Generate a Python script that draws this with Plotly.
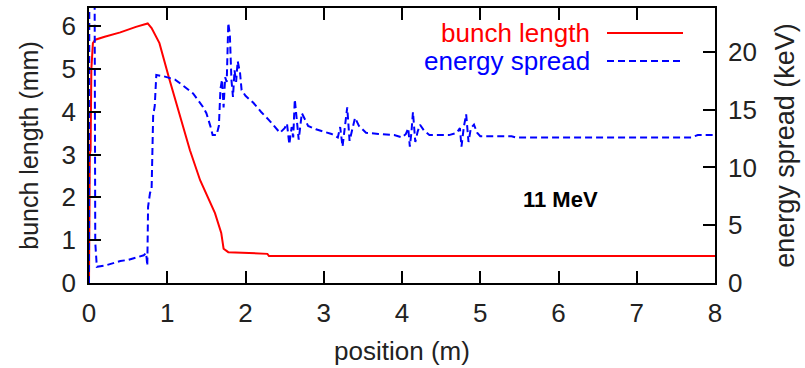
import plotly.graph_objects as go

# bunch length (mm) vs position (m)
bl_pos = [0, 0.01, 0.02, 0.03, 0.05, 0.08, 0.2, 0.4, 0.6, 0.75, 0.8, 0.9, 1.03, 1.14,
          1.29, 1.42, 1.61, 1.69, 1.72, 1.78, 2.28, 2.3, 8.0]
bl_val = [0, 3.0, 3.1, 5.0, 5.6, 5.68, 5.75, 5.85, 5.98, 6.06, 5.95, 5.6, 4.74, 4.04,
          3.1, 2.4, 1.63, 1.17, 0.8, 0.72, 0.68, 0.63, 0.63]

# energy spread (keV) vs position (m)
es_pos = [0, 0.005, 0.07, 0.08, 0.1, 0.2, 0.3, 0.4, 0.5, 0.6, 0.7, 0.73, 0.745, 0.755,
          0.78, 0.80, 0.82, 0.84, 0.86, 0.95, 1.1, 1.2, 1.33, 1.45, 1.5, 1.55, 1.58,
          1.63, 1.66, 1.68, 1.70, 1.72, 1.74, 1.76, 1.78, 1.80, 1.82, 1.84, 1.86, 1.88,
          1.90, 1.93, 1.95, 2.0, 2.1, 2.2, 2.3, 2.44, 2.5, 2.53, 2.56, 2.59, 2.61, 2.63,
          2.66, 2.68, 2.72, 2.76, 2.8, 2.9, 3.0, 3.1, 3.18, 3.21, 3.24, 3.27, 3.3, 3.33,
          3.36, 3.40, 3.45, 3.54, 3.7, 3.9, 4.0, 4.05, 4.08, 4.10, 4.12, 4.14, 4.17, 4.20,
          4.23, 4.28, 4.35, 4.6, 4.7, 4.74, 4.76, 4.79, 4.82, 4.85, 4.88, 4.92, 4.96, 5.0,
          5.4, 5.45, 7.7, 7.78, 8.0]
es_val = [0, 30, 30, 3.5, 1.4, 1.5, 1.7, 1.9, 2.0, 2.2, 2.4, 2.6, 1.5, 6.6,
          7.8, 8.1, 14.5, 15.3, 18.0, 17.9, 17.6, 17.1, 16.4, 15.3, 14.7, 13.6, 12.8,
          12.8, 13.6, 16.8, 17.6, 15.2, 17.8, 17.4, 22.5, 21.5, 17.6, 16.1, 18.4, 17.4,
          19.2, 18.2, 16.7, 16.2, 15.6, 14.8, 14.1, 13.0, 13.4, 13.8, 12.0, 13.5, 12.6, 15.9,
          14.0, 12.4, 14.7, 14.2, 13.6, 13.3, 13.1, 12.9, 12.6, 13.5, 11.8, 13.4, 15.2, 12.3,
          13.2, 14.3, 13.6, 13.0, 12.9, 12.8, 12.6, 12.9, 13.4, 11.8, 13.0, 14.8, 12.2, 13.1,
          13.7, 13.2, 12.8, 12.8, 13.0, 13.4, 11.8, 13.5, 14.6, 12.2, 13.4, 13.7, 13.0, 12.7,
          12.7, 12.6, 12.6, 12.8, 12.8]

x_ticks = [0, 1, 2, 3, 4, 5, 6, 7, 8]
bl_ticks = [0, 1, 2, 3, 4, 5, 6]
es_ticks = [0, 5, 10, 15, 20]

FONT = "Liberation Sans, Arial, sans-serif"
TXT = "#222222"

fig = go.Figure()
fig.add_trace(go.Scatter(x=bl_pos, y=bl_val, mode="lines", name="bunch length",
                         line=dict(color="#ff0000", width=2), yaxis="y"))
fig.add_trace(go.Scatter(x=es_pos, y=es_val, mode="lines", name="energy spread",
                         line=dict(color="#0000ff", width=2, dash="7px,4px"), yaxis="y2"))

axis_common = dict(showline=True, linecolor="black", linewidth=1.5, ticks="inside",
                   ticklen=12, tickcolor="black", tickwidth=1.5, showgrid=False,
                   zeroline=False, automargin=False,
                   tickfont=dict(family=FONT, size=26, color=TXT))

fig.update_layout(
    width=805, height=368,
    margin=dict(l=89, r=90, t=8, b=85),
    paper_bgcolor="white", plot_bgcolor="white",
    showlegend=False,
    xaxis=dict(range=[0, 8], tickvals=x_ticks, mirror="ticks", ticklabelstandoff=6,
               title=dict(text="position (m)", font=dict(family=FONT, size=26, color=TXT), standoff=15),
               **axis_common),
    yaxis=dict(range=[0, 6.42], tickvals=bl_ticks, ticklabelstandoff=6,
               title=dict(text="bunch length (mm)", font=dict(family=FONT, size=25, color=TXT), standoff=16),
               **axis_common),
    yaxis2=dict(range=[0, 23.8], tickvals=es_ticks, overlaying="y", side="right",
                ticklabelstandoff=6,
                title=dict(text="energy spread (keV)", font=dict(family=FONT, size=27, color=TXT), standoff=19),
                **axis_common),
)

# legend drawn gnuplot-style: text then line sample
fig.add_annotation(xref="paper", yref="paper", x=(592 - 89) / 626, y=(283 - 33) / 275,
                   text="bunch length", showarrow=False, xanchor="right", yanchor="middle",
                   font=dict(family=FONT, size=26, color="#ff0000"))
fig.add_annotation(xref="paper", yref="paper", x=(592 - 89) / 626, y=(283 - 61) / 275,
                   text="energy spread", showarrow=False, xanchor="right", yanchor="middle",
                   font=dict(family=FONT, size=26, color="#0000ff"))
fig.add_shape(type="line", xref="paper", yref="paper", x0=(607 - 89) / 626, x1=(683 - 89) / 626,
              y0=(283 - 33) / 275, y1=(283 - 33) / 275, line=dict(color="#ff0000", width=2))
fig.add_shape(type="line", xref="paper", yref="paper", x0=(607 - 89) / 626, x1=(683 - 89) / 626,
              y0=(283 - 61) / 275, y1=(283 - 61) / 275, line=dict(color="#0000ff", width=2, dash="7px,4px"))

fig.add_annotation(x=6.02, y=1.96, xref="x", yref="y", text="<b>11 MeV</b>", showarrow=False,
                   font=dict(family=FONT, size=22, color="black"))

fig.write_html("out.html", config={"displayModeBar": False},
               post_script="document.body.style.margin='0';")
